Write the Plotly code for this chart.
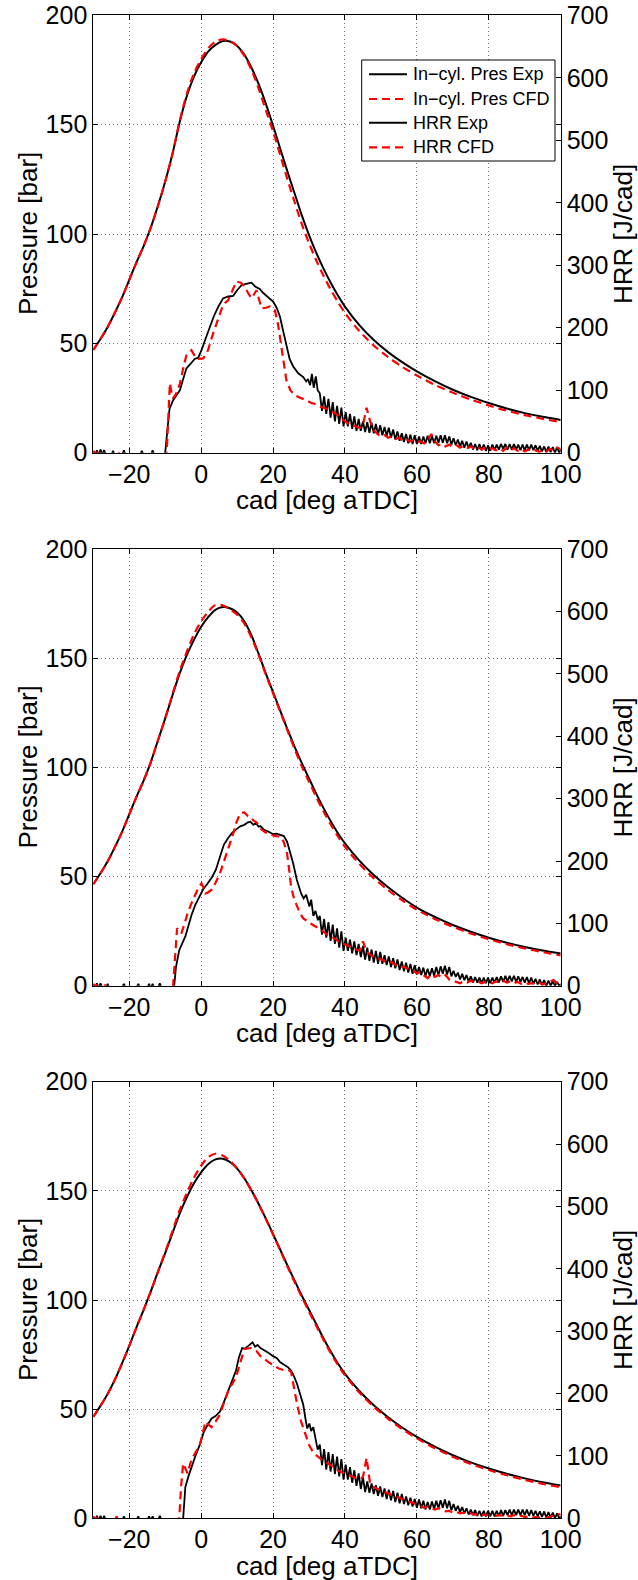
import numpy as np
import plotly.graph_objects as go

# ---------------- data ----------------
cad_p = [-30, -28, -26, -24, -22, -20, -18, -16, -14, -12, -10, -8, -6, -4, -2, 0, 2, 4, 6, 8,
         10, 12, 14, 16, 18, 20, 22, 24, 26, 28, 30, 32, 34, 36, 38, 40, 44, 48, 52, 56,
         60, 65, 70, 75, 80, 85, 90, 95, 100]

p1_exp = [47, 52, 57.5, 64, 71, 79, 87, 94.5, 103, 113, 124, 136.5, 151, 163, 172, 178.5, 183.5, 186.5, 188.2, 188,
          186, 182, 176, 168.5, 159.5, 149.5, 139, 128.5, 118.5, 108.5, 99.5, 91.5, 84.3, 77.8, 72, 66.8, 58.3, 51.5, 46, 41.3,
          37.2, 32.7, 28.8, 25.5, 22.7, 20.2, 18.1, 16.4, 15]
p1_cfd = [47, 52, 57.5, 64, 71, 79, 87, 94.5, 103, 113, 124, 136.5, 151.5, 164, 173.5, 180, 185, 188, 189, 188.3,
          186, 181.5, 175, 166.5, 156.5, 147, 136, 125, 114.5, 104.5, 95.8, 88, 81, 74.7, 69, 63.9, 55.6, 49, 43.7, 39.2,
          35.3, 31, 27.4, 24.3, 21.6, 19.2, 17.2, 15.5, 14]
p2_exp = [46.5, 51.5, 57, 63.5, 70.5, 78.5, 86.5, 94, 102.5, 112.5, 122.5, 133, 143, 151.5, 158.5, 164.5, 169, 172.3, 173.5, 173,
          171, 167, 160.5, 152, 143, 134.5, 126, 117.5, 109.5, 102, 95, 88, 81.5, 75.5, 70, 65.2, 57.3, 50.7, 45.1, 40.2,
          35.8, 31.5, 27.8, 24.7, 22, 19.7, 17.7, 16.1, 14.8]
p2_cfd = [46.5, 51.5, 57, 63.5, 70.5, 78.5, 86.5, 94, 102.5, 112.5, 122.5, 133.5, 144, 153, 161, 167, 171.5, 174.5, 174.3, 172.5,
          170, 166, 159.5, 151.5, 142.5, 134, 125.5, 117, 108.5, 100.5, 93.5, 86.5, 80, 74, 68.5, 63.6, 55.8, 49.3, 43.8, 39,
          34.8, 30.6, 27, 23.9, 21.3, 19, 17.1, 15.4, 13.9]
p3_exp = [46.5, 51.5, 57, 63.5, 71, 79, 87.5, 95.5, 104, 113, 121.5, 130.5, 139.5, 147, 153.5, 158.5, 162.3, 164.4, 164.7, 163.2,
          160.2, 155.8, 150.2, 144, 137.3, 130.2, 123, 115.8, 108.8, 102, 95.5, 89, 82.5, 76.5, 71, 66.2, 58.3, 51.8, 46.3, 41.5,
          37.3, 32.8, 28.9, 25.6, 22.8, 20.4, 18.3, 16.5, 15]
p3_cfd = [46.5, 51.5, 57, 63.5, 71, 79, 87.5, 95.5, 104, 113, 122, 131.5, 141, 149, 156, 161.5, 165.5, 167, 166.2, 163.8,
          160.3, 155.6, 150, 143.8, 137, 130, 122.7, 115.3, 108.2, 101.3, 94.7, 88.2, 81.8, 75.8, 70.3, 65.5, 57.6, 51.1, 45.6, 40.8,
          36.6, 32.1, 28.2, 24.9, 22.1, 19.7, 17.6, 15.8, 14.2]

# HRR: hand-read head section (x, y) + tail read on a 0.6 deg (Exp) / 1 deg (CFD) grid
h1_exp_x = [-30, -29.5, -29, -28.5, -28, -27.5, -27, -26.5, -25, -24.5, -24, -22, -21.5, -21, -17, -16.5, -16, -14, -13.5, -13,
            -10.5, -10, -9.5, -8.8, -7.8, -6.8, -5.9, -5, -4.1, -3, -1.8, -0.8, 0.1, 1.2, 2.4, 3.5, 4.8, 6.1, 7.5, 8.9,
            10, 11.2, 12.5, 14, 15, 16.3, 17.2, 18.2, 19.2, 20, 21, 21.9, 22.8, 23.7, 24.6, 25.6, 27, 28.4, 29.2, 29.7,
            30.3, 30.8, 31.3, 31.9, 32.4]
h1_exp_y = [3, -4, 4, -4, 5, -3, 4, -4, -4, 3, -4, -4, 4, -4, -4, 3, -4, -4, 4, -4,
            -4, 0, 30, 70, 84, 92, 100, 118, 135, 142, 150, 152, 164, 182, 202, 218, 234, 247, 250, 251,
            260, 268, 270, 272, 266, 262, 256, 251, 246, 242, 232, 218, 195, 170, 150, 138, 127, 121, 114, 118,
            108, 126, 104, 122, 100]
h1_exp_tail = [95, 67, 90, 62, 86, 56, 81, 50, 75, 46,
               72, 42, 65, 42, 62, 38, 58, 35, 54, 35,
               50, 33, 49, 32, 48, 31, 46, 29, 44, 28,
               41, 27, 40, 24, 37, 21, 34, 19, 31, 17,
               30, 15, 29, 14, 28, 14, 26, 14, 26, 15,
               27, 15, 27, 15, 27, 16, 28, 16, 28, 15,
               26, 13, 23, 12, 21, 10, 19, 8, 18, 7,
               16, 5, 14, 4, 14, 4, 13, 3, 12, 3,
               13, 4, 13, 5, 14, 6, 14, 5, 14, 5,
               14, 5, 13, 4, 13, 4, 13, 4, 13, 4,
               12, 3, 11, 2, 10, 1, 10, 1, 9, 0,
               9, 0, 6]
h1_cfd_x = [-30, -29.3, -28.6, -28, -23, -22.5, -22, -10, -9.6, -9.2, -8.7, -8.2, -7.8, -6.8, -5.9, -5, -4.1, -2.7, -1.3, 0.6,
            1.9, 3, 4.3, 6.1, 7.5, 8.6, 9.8, 11, 12.1, 13, 14, 15.4, 16.1, 16.8, 18, 19.1, 20.5, 21.4, 22.3, 23,
            23.7, 24.8, 26, 27.5, 29.3, 30.5, 31.6, 33]
h1_cfd_y = [3, -3, 3, -3, -3, 3, -3, -3, 0, 60, 111, 95, 87, 96, 111, 135, 156, 164, 150, 151,
            164, 185, 207, 237, 244, 258, 274, 272, 266, 256, 247, 260, 245, 231, 232, 234, 228, 205, 170, 140,
            116, 100, 92, 88, 84, 80, 78, 74]
h1_cfd_tail = [72, 70, 66, 64, 60, 54, 50, 46, 44, 42,
               40, 44, 72, 50, 36, 30, 26, 28, 24, 26,
               22, 24, 20, 22, 18, 20, 16, 18, 15, 20,
               30, 18, 12, 14, 10, 13, 9, 12, 8, 11,
               8, 10, 6, 9, 5, 8, 5, 7, 4, 7,
               3, 8, 4, 7, 3, 6, 2, 5, 2, 4,
               1, 5, 2, 6, 3, 8, 6]

h2_exp_x = [-30, -29.5, -29, -28.5, -28, -27.5, -26.5, -26, -25.5, -22, -21.5, -21, -18, -17.5, -17, -15, -14.5, -14, -13.5, -13,
            -12, -11.5, -11, -8, -7.5, -7, -6.1, -5.2, -4.4, -3.5, -2.7, -1.6, -0.5, 0.6, 1.8, 3, 4.1, 5.2, 6.3, 7.5,
            8.6, 10, 11, 12, 13, 13.7, 14.5, 15.2, 16, 16.5, 17.5, 18.8, 20, 21, 22.2, 23, 23.9, 24.7, 25.6, 26.6,
            27.8, 28.5, 29.2, 30.1, 30.6, 31.2, 31.8, 32.5]
h2_exp_y = [3, -4, 4, -4, 4, -4, -4, 3, -4, -4, 3, -4, -4, 3, -4, -4, 3, -4, 3, -4,
            -4, 4, -4, -4, 0, 30, 57, 70, 79, 97, 113, 130, 143, 155, 164, 174, 186, 206, 226, 237,
            245, 252, 256, 258, 262, 263, 258, 261, 255, 256, 250, 247, 243, 244, 242, 240, 231, 215, 196, 170,
            148, 140, 146, 127, 138, 112, 120, 105]
h2_exp_tail = [112, 82, 107, 77, 102, 72, 98, 67, 92, 61,
               87, 56, 77, 56, 74, 52, 71, 49, 67, 46,
               64, 42, 61, 40, 58, 37, 56, 35, 54, 35,
               49, 33, 47, 30, 44, 28, 42, 25, 39, 23,
               37, 21, 35, 19, 33, 18, 30, 17, 29, 15,
               27, 15, 28, 16, 30, 17, 31, 19, 32, 18,
               30, 15, 24, 14, 21, 10, 19, 9, 17, 7,
               15, 5, 14, 5, 13, 4, 13, 4, 13, 4,
               13, 5, 14, 5, 15, 6, 16, 7, 16, 7,
               16, 6, 15, 6, 14, 5, 14, 4, 13, 3,
               11, 2, 10, 1, 9, 0, 8, 0, 7, 0,
               6, 0, 3]
h2_cfd_x = [-30, -29.4, -28.8, -28.2, -27, -26.5, -26, -8, -7.8, -7.2, -6.7, -6.1, -5.5, -4.6, -3.8, -2.7, -1.6, -0.7, 0.1, 0.6,
            1.2, 2, 2.9, 4, 5.2, 6.3, 7.5, 8.7, 9.8, 10.9, 12, 13, 13.7, 14.5, 15.4, 16.5, 17.8, 19.4, 20.8, 22.2,
            23, 23.9, 24.5, 25, 25.8, 26.7, 27.5, 28.4, 29.8, 31.2, 32.8]
h2_cfd_y = [3, -3, 3, -3, -3, 3, -3, -3, 0, 50, 92, 88, 84, 100, 116, 132, 148, 158, 164, 158,
            148, 150, 154, 165, 180, 198, 218, 240, 262, 277, 278, 272, 271, 265, 262, 252, 246, 242, 240, 239,
            230, 212, 185, 159, 140, 127, 116, 108, 102, 97, 92]
h2_cfd_tail = [86, 82, 80, 76, 72, 68, 66, 64, 60, 58,
               56, 71, 55, 50, 46, 44, 42, 40, 36, 38,
               33, 34, 30, 29, 25, 24, 20, 22, 16, 12,
               18, 14, 17, 13, 17, 10, 8, 6, 4, 7,
               5, 8, 5, 7, 4, 6, 6, 4, 7, 5,
               8, 5, 7, 4, 6, 3, 5, 3, 4, 2,
               5, 2, 4, 6, 9, 4, 1]

h3_exp_x = [-30, -29.5, -29, -28.5, -28, -27.5, -27, -26.5, -26, -22, -21.5, -21, -18, -17.5, -17, -15, -14.5, -14, -13.5, -13,
            -12, -11.5, -11, -5.5, -5, -4.6, -4.4, -3.5, -2.7, -1.6, -0.5, 0.2, 0.7, 1.8, 2.9, 4, 5.2, 6.3, 7.5, 8.6,
            9.7, 10.5, 11.4, 12.2, 13.1, 14.3, 15, 15.7, 16.5, 17.5, 18.8, 20, 21, 22, 23.3, 24.2, 25, 25.8, 26.7, 27.6,
            28.4, 29, 29.5, 30.1, 30.6, 31.2, 31.8, 32.4]
h3_exp_y = [3, -4, 4, -4, 4, -4, 4, -4, -4, -4, 3, -4, -4, 3, -4, -4, 3, -4, 3, -4,
            -4, 4, -4, -4, 0, 40, 50, 68, 83, 100, 116, 128, 138, 150, 160, 164, 171, 186, 204, 220,
            237, 258, 273, 272, 276, 282, 275, 278, 273, 270, 265, 260, 257, 250, 246, 242, 237, 228, 215, 198,
            182, 160, 144, 152, 140, 146, 125, 110]
h3_exp_tail = [118, 85, 111, 78, 106, 75, 103, 71, 99, 67,
               95, 62, 86, 62, 82, 57, 77, 52, 72, 47,
               66, 42, 59, 41, 56, 39, 53, 36, 51, 34,
               48, 31, 46, 29, 44, 26, 41, 24, 39, 23,
               35, 21, 33, 19, 31, 17, 30, 16, 28, 14,
               26, 14, 27, 15, 28, 16, 29, 17, 30, 16,
               28, 13, 23, 12, 20, 10, 18, 8, 16, 6,
               14, 5, 13, 4, 12, 3, 12, 3, 12, 3,
               12, 3, 12, 4, 13, 4, 13, 5, 14, 5,
               14, 5, 14, 5, 14, 5, 14, 4, 13, 4,
               12, 3, 11, 2, 11, 1, 10, 1, 9, 0,
               8, 0, 4]
h3_cfd_x = [-30, -29.4, -28.8, -28.2, -24, -23.5, -23, -6.6, -6.1, -5.6, -5, -4.4, -3.8, -2.7, -1.6, -0.5, 0.4, 1.2, 2, 2.9,
            4, 5.2, 6.3, 7.5, 8.6, 9.7, 10.8, 12, 13.7, 15.4, 16.5, 17.7, 18.8, 20, 21.6, 23.3, 24.2, 25, 25.8, 26.7,
            27.8, 29, 30, 31.2, 32.8]
h3_cfd_y = [3, -3, 3, -3, -3, 3, -3, -3, 0, 50, 88, 80, 72, 94, 106, 116, 135, 155, 150, 146,
            155, 166, 185, 204, 215, 226, 248, 271, 273, 268, 260, 254, 250, 246, 240, 237, 238, 235, 210, 182,
            155, 133, 118, 105, 97]
h3_cfd_tail = [92, 89, 85, 80, 77, 74, 71, 69, 67, 65,
               63, 66, 97, 55, 50, 47, 45, 42, 40, 37,
               36, 33, 31, 29, 27, 24, 22, 20, 17, 19,
               16, 14, 16, 13, 11, 12, 9, 10, 8, 9,
               7, 8, 6, 7, 5, 6, 5, 6, 4, 5,
               4, 5, 3, 5, 3, 4, 2, 3, 1, 2,
               1, 2, 1, 2, 4, 7, 6]

x_ticks = [-20, 0, 20, 40, 60, 80, 100]
p_ticks = [0, 50, 100, 150, 200]
h_ticks = [0, 100, 200, 300, 400, 500, 600, 700]
legend_names = ["In\u2212cyl. Pres Exp", "In\u2212cyl. Pres CFD", "HRR Exp", "HRR CFD"]


def join(hx, hy, tail, start, step):
    assert len(hx) == len(hy)
    tx = [start + step * i for i in range(len(tail))]
    return list(hx) + tx, list(hy) + list(tail)


panels = [
    (p1_exp, p1_cfd, join(h1_exp_x, h1_exp_y, h1_exp_tail, 33.0, 0.6), join(h1_cfd_x, h1_cfd_y, h1_cfd_tail, 34.0, 1.0)),
    (p2_exp, p2_cfd, join(h2_exp_x, h2_exp_y, h2_exp_tail, 33.0, 0.6), join(h2_cfd_x, h2_cfd_y, h2_cfd_tail, 34.0, 1.0)),
    (p3_exp, p3_cfd, join(h3_exp_x, h3_exp_y, h3_exp_tail, 33.0, 0.6), join(h3_cfd_x, h3_cfd_y, h3_cfd_tail, 34.0, 1.0)),
]

# ---------------- layout geometry (pixels) ----------------
W, H = 638, 1580
XL, XR = 93.3, 560.7
panel_px = [(15.3, 452.7), (549.3, 985.7), (1081.7, 1518.3)]
FONT = "Liberation Sans, Arial, Helvetica, sans-serif"
TICK_FONT = dict(family=FONT, size=25, color="black")
TITLE_SIZE = 26
RED = "#ff0000"
DASH = "8px,5px"
GRID = dict(showgrid=True, gridcolor="#707070", griddash="1px,3px", gridwidth=1)

fig = go.Figure()
layout = dict()
annotations = []
shapes = []

for i, ((pe, pc, (hex_, hey), (hcx, hcy)), (top, bot)) in enumerate(zip(panels, panel_px)):
    n = i + 1
    xa = "x" if n == 1 else f"x{n}"
    yl_num, yr_num = 2 * n - 1, 2 * n
    yl = "y" if yl_num == 1 else f"y{yl_num}"
    yr = f"y{yr_num}"

    fig.add_trace(go.Scatter(x=cad_p, y=pe, xaxis=xa, yaxis=yl, mode="lines", name=legend_names[0],
                             line=dict(color="black", width=2, shape="spline", smoothing=0.8), showlegend=False))
    fig.add_trace(go.Scatter(x=cad_p, y=pc, xaxis=xa, yaxis=yl, mode="lines", name=legend_names[1],
                             line=dict(color=RED, width=2.2, dash=DASH, shape="spline", smoothing=0.8), showlegend=False))
    fig.add_trace(go.Scatter(x=hex_, y=hey, xaxis=xa, yaxis=yr, mode="lines", name=legend_names[2],
                             line=dict(color="black", width=1.8), showlegend=False))
    fig.add_trace(go.Scatter(x=hcx, y=hcy, xaxis=xa, yaxis=yr, mode="lines", name=legend_names[3],
                             line=dict(color=RED, width=2.2, dash=DASH), showlegend=False))

    dom = [1 - bot / H, 1 - top / H]
    common = dict(showline=True, linecolor="black", linewidth=1, ticks="inside", ticklen=5,
                  tickcolor="black", tickwidth=1, tickfont=TICK_FONT, zeroline=False, automargin=False)
    layout["xaxis" if n == 1 else f"xaxis{n}"] = dict(
        domain=[XL / W, XR / W], anchor=yl, range=[-30, 100], tickvals=x_ticks,
        mirror="ticks", ticklabelstandoff=-1, **GRID, **common)
    layout["yaxis" if yl_num == 1 else f"yaxis{yl_num}"] = dict(
        domain=dom, anchor=xa, range=[0, 200], tickvals=p_ticks, mirror="ticks", **GRID, **common)
    layout[f"yaxis{yr_num}"] = dict(
        domain=dom, anchor=xa, overlaying=yl, side="right", range=[0, 700], tickvals=h_ticks,
        showgrid=False, **common)

    ymid = 1 - (top + bot) / 2 / H
    annotations.append(dict(text="Pressure [bar]", x=28 / W, y=ymid, xref="paper", yref="paper",
                            textangle=-90, showarrow=False, xanchor="center", yanchor="middle",
                            font=dict(family=FONT, size=TITLE_SIZE, color="black")))
    annotations.append(dict(text="HRR [J/cad]", x=623 / W, y=ymid, xref="paper", yref="paper",
                            textangle=-90, showarrow=False, xanchor="center", yanchor="middle",
                            font=dict(family=FONT, size=TITLE_SIZE, color="black")))
    annotations.append(dict(text="cad [deg aTDC]", x=(XL + XR) / 2 / W, y=1 - (bot + 47.5) / H,
                            xref="paper", yref="paper", showarrow=False, xanchor="center", yanchor="middle",
                            font=dict(family=FONT, size=TITLE_SIZE, color="black")))

# ---------------- legend box (top panel) ----------------
LEG_BOX = (361.7, 60.0, 555.0, 161.0)
LEG_ROWS = [74.3, 99.0, 122.7, 147.3]
LEG_STYLES = [dict(color="black", width=2), dict(color=RED, width=2.2, dash=DASH),
              dict(color="black", width=2), dict(color=RED, width=2.2, dash=DASH)]
shapes.append(dict(type="rect", xref="paper", yref="paper", layer="above",
                   x0=LEG_BOX[0] / W, x1=LEG_BOX[2] / W, y0=1 - LEG_BOX[3] / H, y1=1 - LEG_BOX[1] / H,
                   line=dict(color="black", width=1), fillcolor="white"))
for name, ry, st in zip(legend_names, LEG_ROWS, LEG_STYLES):
    shapes.append(dict(type="line", xref="paper", yref="paper", layer="above",
                       x0=369 / W, x1=407 / W, y0=1 - ry / H, y1=1 - ry / H, line=st))
    annotations.append(dict(text=name, x=411 / W, y=1 - ry / H, xref="paper", yref="paper",
                            showarrow=False, xanchor="left", yanchor="middle",
                            font=dict(family=FONT, size=18, color="black")))

fig.update_layout(
    template="none",
    width=W, height=H, autosize=False,
    margin=dict(l=0, r=0, t=0, b=0, pad=0),
    paper_bgcolor="white", plot_bgcolor="white",
    font=dict(family=FONT, color="black"),
    showlegend=False,
    annotations=annotations,
    shapes=shapes,
    **layout,
)

fig.write_html("out.html")
